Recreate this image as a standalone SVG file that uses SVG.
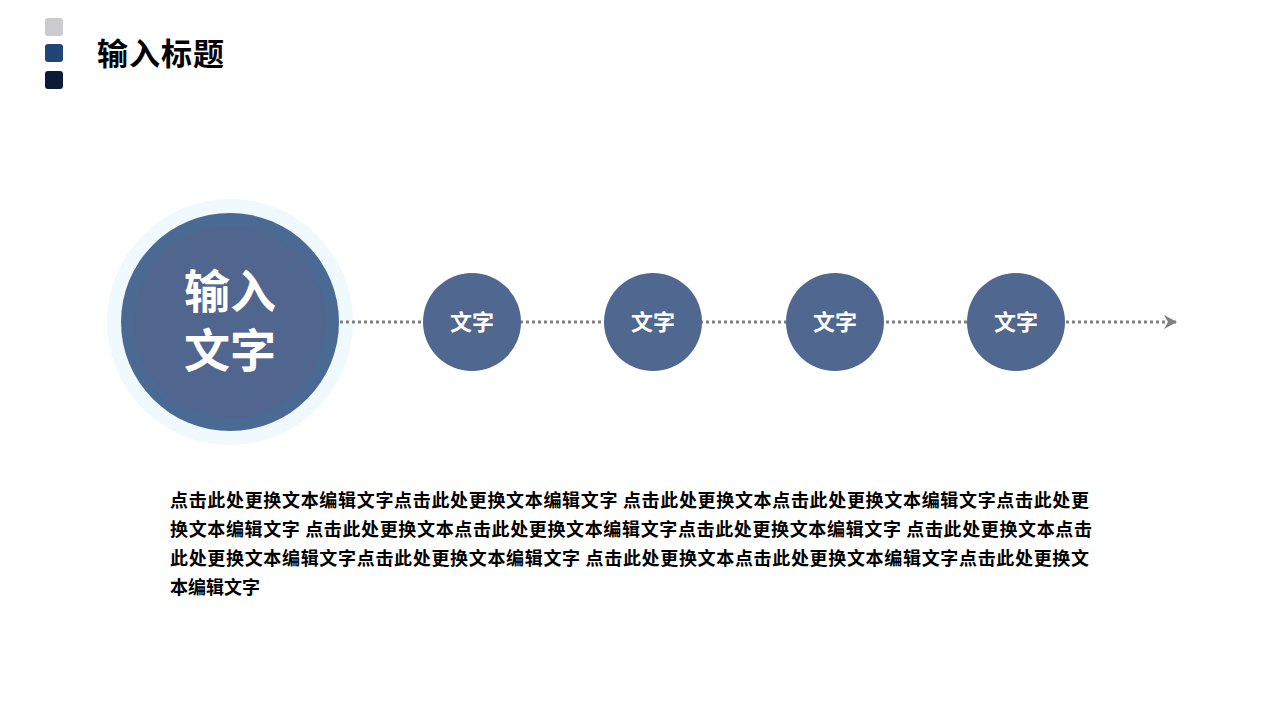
<svg xmlns="http://www.w3.org/2000/svg" width="1280" height="720" viewBox="0 0 1280 720">
<defs>
<style>
.cjk{font-family:"Noto Sans CJK SC","Noto Sans",sans-serif;font-weight:bold}
.node{fill:#50678f}
.lbl{fill:#ffffff;font-size:22px;text-anchor:middle}
.body{fill:#000000;font-size:18px}
</style>
<marker id="arrow" markerWidth="16" markerHeight="16" refX="13" refY="8" orient="auto" markerUnits="userSpaceOnUse">
<path d="M1,1 L14,8 L1,15 L5,8 Z" fill="#808080"/>
</marker>
</defs>
<rect width="1280" height="720" fill="#ffffff"/>
<g id="header">
<rect x="45" y="18" width="18" height="18" rx="3" fill="#cbcbcf"/>
<rect x="45" y="44" width="18" height="18" rx="3" fill="#1f4677"/>
<rect x="45" y="71" width="18" height="18" rx="3" fill="#0c1a35"/>
<text class="cjk" x="97" y="65" font-size="31" fill="#000000" letter-spacing="1">输入标题</text>
</g>
<g id="main-node">
<circle cx="230" cy="322" r="123" fill="#f0f9fe"/>
<circle cx="230" cy="322" r="109" fill="#4a6a93"/>
<circle cx="230" cy="322" r="96" fill="#50668e"/>
<text class="cjk" font-size="46" fill="#ffffff" text-anchor="middle"><tspan x="230" y="308">输入</tspan><tspan x="230" y="367">文字</tspan></text>
</g>
<g id="connectors">
<line x1="340" y1="322" x2="1176" y2="322" stroke="#808080" stroke-width="3" stroke-dasharray="3 3" marker-end="url(#arrow)"/>
</g>
<g id="node1"><circle class="node" cx="472" cy="322" r="49"/><text class="cjk lbl" x="472" y="330">文字</text></g>
<g id="node2"><circle class="node" cx="653" cy="322" r="49"/><text class="cjk lbl" x="653" y="330">文字</text></g>
<g id="node3"><circle class="node" cx="835" cy="322" r="49"/><text class="cjk lbl" x="835" y="330">文字</text></g>
<g id="node4"><circle class="node" cx="1016" cy="322" r="49"/><text class="cjk lbl" x="1016" y="330">文字</text></g>
<g id="paragraph" class="cjk body">
<text x="170" y="507" textLength="919" lengthAdjust="spacing">点击此处更换文本编辑文字点击此处更换文本编辑文字 点击此处更换文本点击此处更换文本编辑文字点击此处更</text>
<text x="170" y="536" textLength="922" lengthAdjust="spacing">换文本编辑文字 点击此处更换文本点击此处更换文本编辑文字点击此处更换文本编辑文字 点击此处更换文本点击</text>
<text x="170" y="565" textLength="919" lengthAdjust="spacing">此处更换文本编辑文字点击此处更换文本编辑文字 点击此处更换文本点击此处更换文本编辑文字点击此处更换文</text>
<text x="170" y="594">本编辑文字</text>
</g>
</svg>
